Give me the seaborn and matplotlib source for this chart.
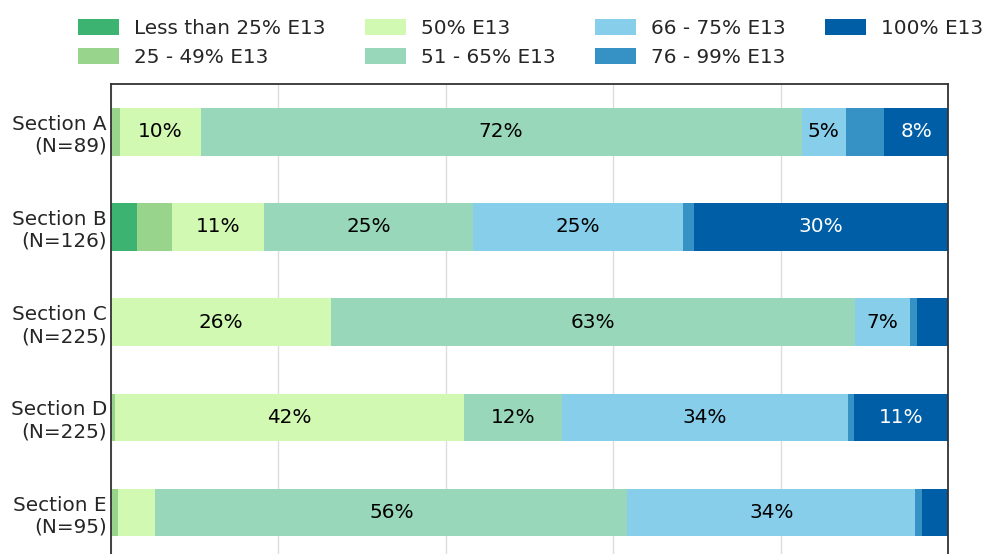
import numpy as np
import pandas as pd
import seaborn as sns
from matplotlib import pyplot as plt
from matplotlib.patches import Patch

sections = ['Section A\n(N=89)', 'Section B\n(N=126)', 'Section C\n(N=225)',
            'Section D\n(N=225)', 'Section E\n(N=95)']
categories = ['Less than 25% E13', '25 - 49% E13', '50% E13', '51 - 65% E13',
              '66 - 75% E13', '76 - 99% E13', '100% E13']
colors = ['#3CB371', '#98D48C', '#D1F9B1', '#98D7BA', '#87CEEB', '#3692C5', '#005EA7']

# percent of students per category, one list per category (A..E)
less25 = [0.0, 3.1, 0.0, 0.0, 0.0]
p25_49 = [1.1, 4.2, 0.0, 0.5, 0.8]
p50 = [9.6, 11.0, 26.3, 41.7, 4.5]
p51_65 = [71.8, 24.9, 62.6, 11.7, 56.4]
p66_75 = [5.3, 25.1, 6.6, 34.1, 34.4]
p76_99 = [4.6, 1.3, 0.8, 0.8, 0.8]
p100 = [7.6, 30.4, 3.7, 11.2, 3.1]

df = pd.DataFrame(dict(zip(categories, [less25, p25_49, p50, p51_65, p66_75, p76_99, p100])),
                  index=sections)
cum = df.cumsum(axis=1)

sns.set_theme(style='whitegrid')
plt.rcParams['font.family'] = ['DejaVu Sans']
fs = 14.4

fig = plt.figure(figsize=(9.84, 5.54), dpi=100)
ax = fig.add_axes([0.1128, -0.011, 0.8506, 0.859])

# stacked bars: draw cumulative totals from longest to shortest
for cat, col in reversed(list(zip(categories, colors))):
    sns.barplot(x=cum[cat].values, y=sections, color=col, saturation=1,
                width=0.5, linewidth=0, ax=ax, orient='h')

# value labels
for i, sec in enumerate(sections):
    start = 0
    for cat in categories:
        v = df.loc[sec, cat]
        if v >= 5:
            tc = 'white' if cat in ('100% E13', '76 - 99% E13') else 'black'
            ax.text(start + v / 2, i, f'{v:.0f}%', ha='center', va='center',
                    color=tc, fontsize=fs)
        start += v

ax.set_xlim(0, 100)
ax.set_ylim(4.5, -0.5)
ax.set_xticks([0, 20, 40, 60, 80, 100])
ax.set_xticklabels([])
ax.xaxis.grid(True, color='#dddddd', linewidth=1)
ax.yaxis.grid(False)
ax.tick_params(axis='y', labelsize=fs, labelcolor='#262626', length=0, pad=3)
ax.tick_params(axis='x', length=0)
for s in ax.spines.values():
    s.set_color('#333333')
    s.set_linewidth(1.3)
ax.set_xlabel('')
ax.set_ylabel('')

handles = [Patch(facecolor=c, edgecolor='none', label=l) for l, c in zip(categories, colors)]
fig.legend(handles=handles, ncol=4, loc='upper left', bbox_to_anchor=(0.079, 0.966),
           frameon=False, fontsize=fs, handlelength=2.05, handleheight=0.8,
           handletextpad=0.75, columnspacing=1.98, labelspacing=0.5, borderpad=0,
           borderaxespad=0, labelcolor='#262626')

fig.savefig('out.png', dpi=100)
